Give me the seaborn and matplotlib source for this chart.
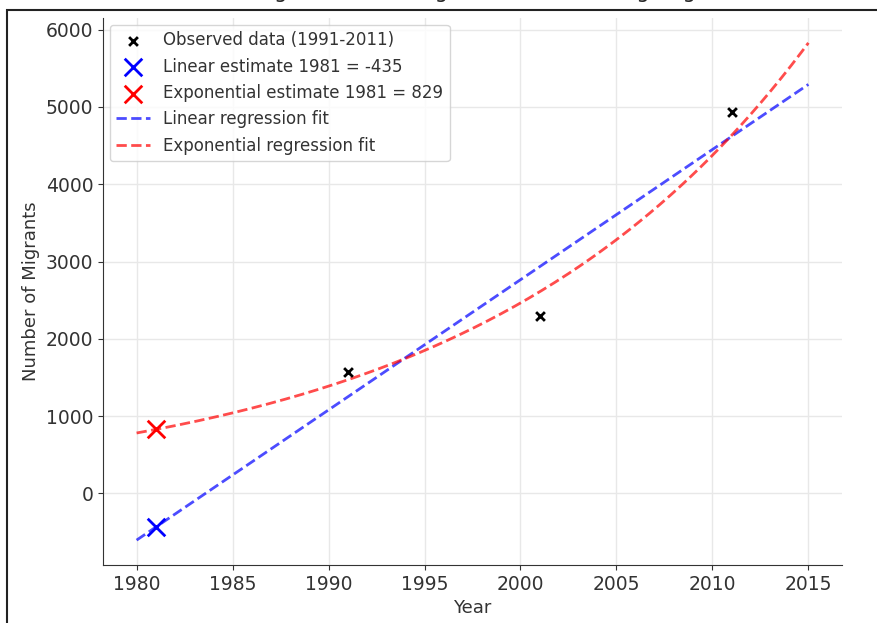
import numpy as np
import pandas as pd
import matplotlib
matplotlib.use("Agg")
import matplotlib.pyplot as plt
from matplotlib.patches import Rectangle
import seaborn as sns

years = [1991, 2001, 2011]
migrants = [1565, 2300, 4935]

# Estimates for 1981 as shown in the legend
est_year = 1981
linear_est = -435
exp_est = 829

# Range of the fitted curves
fit_start, fit_end = 1980, 2015

obs = pd.DataFrame({"Year": years, "Migrants": migrants})

# Linear and exponential (log-linear) regression on the observed points
lin_coef = np.polyfit(obs["Year"], obs["Migrants"], 1)
exp_coef = np.polyfit(obs["Year"], np.log(obs["Migrants"]), 1)
fit_years = np.linspace(fit_start, fit_end, 200)
fits = pd.DataFrame({
    "Year": fit_years,
    "Linear": np.polyval(lin_coef, fit_years),
    "Exponential": np.exp(np.polyval(exp_coef, fit_years)),
})

sns.set_style("ticks")
plt.rcParams["font.family"] = ["DejaVu Sans"]

fig = plt.figure(figsize=(8.77, 6.23), dpi=100)
ax = fig.add_axes([103 / 877, 1 - 565 / 623, (842 - 103) / 877, (565 - 18) / 623])

sns.scatterplot(data=obs, x="Year", y="Migrants", marker="x", color="black",
                s=40, linewidth=2, label="Observed data (1991-2011)", ax=ax, zorder=5)
sns.scatterplot(x=[est_year], y=[linear_est], marker="x", color="blue", s=160,
                linewidth=2, label=f"Linear estimate 1981 = {linear_est}", ax=ax, zorder=6)
sns.scatterplot(x=[est_year], y=[exp_est], marker="x", color="red", s=160,
                linewidth=2, label=f"Exponential estimate 1981 = {exp_est}", ax=ax, zorder=6)
sns.lineplot(data=fits, x="Year", y="Linear", color="blue", linestyle="--", lw=2,
             alpha=0.7, label="Linear regression fit", ax=ax)
sns.lineplot(data=fits, x="Year", y="Exponential", color="red", linestyle="--", lw=2,
             alpha=0.7, label="Exponential regression fit", ax=ax)

ax.set_xticks(range(1980, 2016, 5))
ax.set_yticks(range(0, 6001, 1000))
ax.set_xlabel("Year", fontsize=13)
ax.set_ylabel("Number of Migrants", fontsize=13)
ax.tick_params(labelsize=13.5, colors="#333333")
ax.grid(True, color="#e8e8e8", lw=1)
sns.despine(ax=ax)
ax.spines["left"].set_color("#333333")
ax.spines["bottom"].set_color("#333333")
ax.xaxis.label.set_color("#333333")
ax.yaxis.label.set_color("#333333")

leg = ax.legend(loc="upper left", fontsize=12, frameon=True, borderaxespad=0.4)
for t in leg.get_texts():
    t.set_color("#333333")

# title sits mostly above the visible area, as in the screenshot
fig.text(0.54, 1 + 2 / 623, "Estimating Number of Migrants in 1981 using Regression",
         ha="center", va="baseline", fontsize=15)

# screenshot border
fig.patches.append(Rectangle((7 / 877, -0.1), 2, 1 - 10 / 623 + 0.1,
                             transform=fig.transFigure, fill=False,
                             edgecolor="#222222", lw=1.5))

fig.savefig("out.png", dpi=100)
